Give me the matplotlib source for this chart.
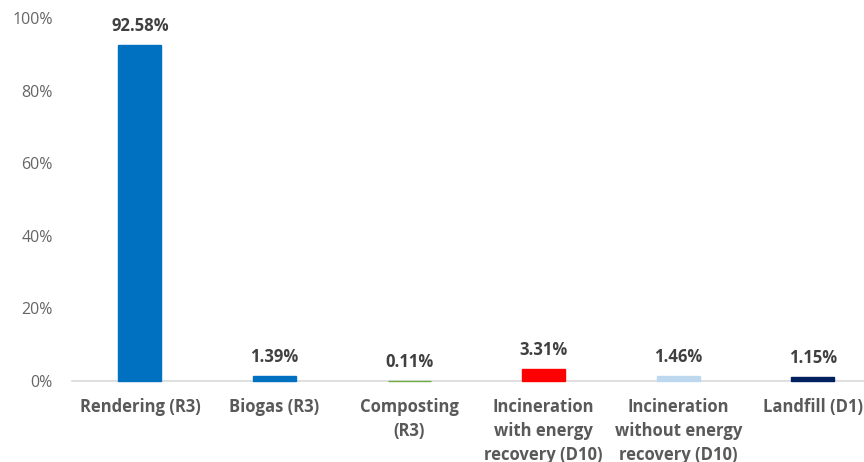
import matplotlib
matplotlib.use("Agg")
import matplotlib.pyplot as plt

categories = [
    "Rendering (R3)",
    "Biogas (R3)",
    "Composting\n(R3)",
    "Incineration\nwith energy\nrecovery (D10)",
    "Incineration\nwithout energy\nrecovery (D10)",
    "Landfill (D1)",
]
shares = [92.58, 1.39, 0.11, 3.31, 1.46, 1.15]
bar_colors = ["#0070C0", "#0070C0", "#70AD47", "#FF0000", "#BDD7EE", "#002060"]
y_ticks = [0, 20, 40, 60, 80, 100]

plt.rcParams["font.family"] = ["Open Sans", "DejaVu Sans"]

fig = plt.figure(figsize=(8.64, 4.62), dpi=100)
ax = fig.add_axes([72 / 864, 81 / 462, 1 - 72 / 864, (381 - 18) / 462])

x = list(range(len(categories)))
bars = ax.bar(x, shares, width=0.32, color=bar_colors, edgecolor=bar_colors,
              linewidth=1.0, zorder=3)
for b in bars:
    b.set_clip_on(False)

for xi, v in zip(x, shares):
    ax.annotate(f"{v:.2f}%", (xi, v), xytext=(0, 7), textcoords="offset points",
                ha="center", va="bottom", fontsize=12, fontweight="bold",
                color="#404040")

ax.set_xlim(-0.505, 5.38)
ax.set_ylim(0, 100)
ax.set_yticks(y_ticks)
ax.set_yticklabels([f"{t}%" for t in y_ticks], fontsize=11.5, color="#666666")
ax.tick_params(axis="y", length=0, pad=14)
ax.set_xticks(x)
ax.set_xticklabels(categories, fontsize=12, fontweight="bold", color="#595959",
                   linespacing=1.4, va="top")
ax.tick_params(axis="x", length=0, pad=12.5)

for side in ["top", "right", "left"]:
    ax.spines[side].set_visible(False)
ax.spines["bottom"].set_color("#D9D9D9")
ax.spines["bottom"].set_linewidth(1.2)
ax.spines["bottom"].set_zorder(1)

fig.savefig("out.png", dpi=100)
